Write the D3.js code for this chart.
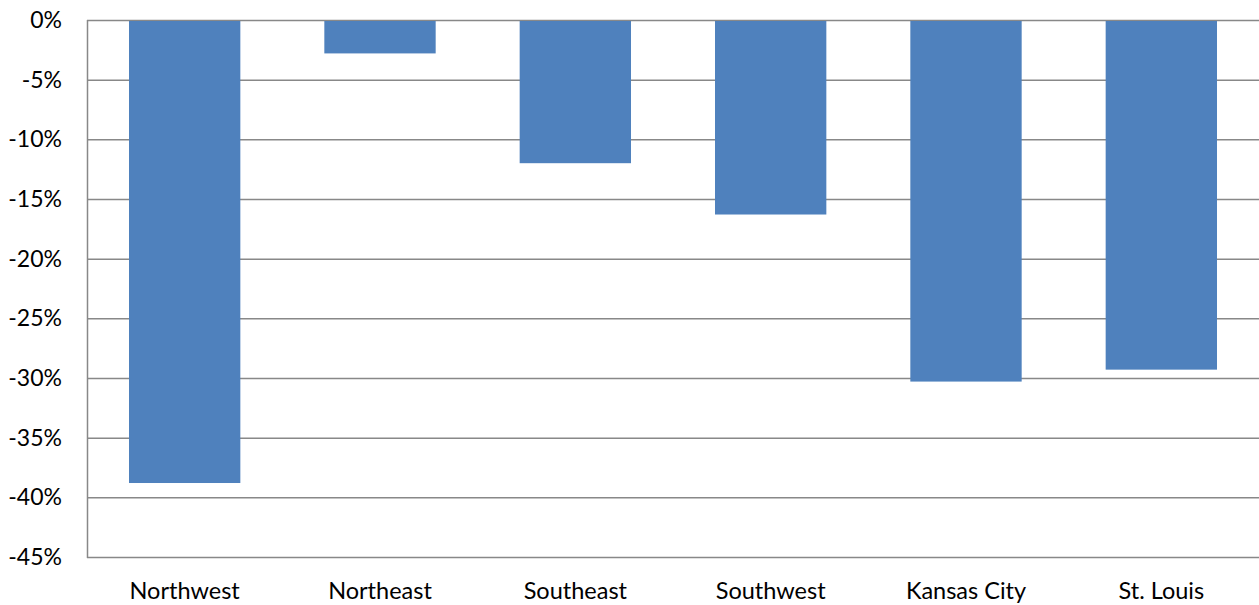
<!DOCTYPE html>
<html lang="en">
<head>
<meta charset="UTF-8">
<title>Regions</title>
<style>
  body { margin: 0; background: #fff; }
  text { font-family: Lato, "Open Sans", sans-serif; fill: #000; }
</style>
</head>
<body>
<script src="https://d3js.org/d3.v7.min.js"></script>
<script>
// data
var regions = ["Northwest", "Northeast", "Southeast", "Southwest", "Kansas City", "St. Louis"];
var changes = [-38.8, -2.8, -12.0, -16.3, -30.3, -29.3];
var ticks = [0, -5, -10, -15, -20, -25, -30, -35, -40, -45];

var width = 1259, height = 605;
var plotLeft = 87, plotRight = 1259, plotTop = 20, plotBottom = 557;

var svg = d3.select("body").append("svg")
    .attr("width", width)
    .attr("height", height);

var x = d3.scaleBand()
    .domain(regions)
    .range([plotLeft, plotRight])
    .paddingInner(0.43)
    .paddingOuter(0.215);

var y = d3.scaleLinear()
    .domain([0, -45])
    .range([plotTop, plotBottom]);

// gridlines
svg.append("g").selectAll("line")
    .data(ticks)
    .enter().append("line")
    .attr("x1", plotLeft)
    .attr("x2", plotRight)
    .attr("y1", function(d) { return y(d) + 0.5; })
    .attr("y2", function(d) { return y(d) + 0.5; })
    .attr("stroke", "#888")
    .attr("stroke-width", 1.5);

// bars
svg.append("g").selectAll("rect")
    .data(regions)
    .enter().append("rect")
    .attr("x", function(d) { return x(d); })
    .attr("y", y(0) + 1)
    .attr("width", x.bandwidth())
    .attr("height", function(d, i) { return y(changes[i]) - y(0) - 1; })
    .attr("fill", "#4f81bd");

// left axis line
svg.append("line")
    .attr("x1", plotLeft + 0.5).attr("x2", plotLeft + 0.5)
    .attr("y1", plotTop).attr("y2", plotBottom + 1)
    .attr("stroke", "#888")
    .attr("stroke-width", 1.5);

// y labels
svg.append("g").selectAll("text")
    .data(ticks)
    .enter().append("text")
    .attr("x", 62)
    .attr("y", function(d) { return y(d); })
    .attr("dy", "0.35em")
    .attr("text-anchor", "end")
    .style("font-size", "23px")
    .text(function(d) { return d + "%"; });

// category labels
svg.append("g").selectAll("text")
    .data(regions)
    .enter().append("text")
    .attr("x", function(d) { return x(d) + x.bandwidth() / 2; })
    .attr("y", 599)
    .attr("text-anchor", "middle")
    .style("font-size", "23.5px")
    .text(function(d) { return d; });
</script>
</body>
</html>
